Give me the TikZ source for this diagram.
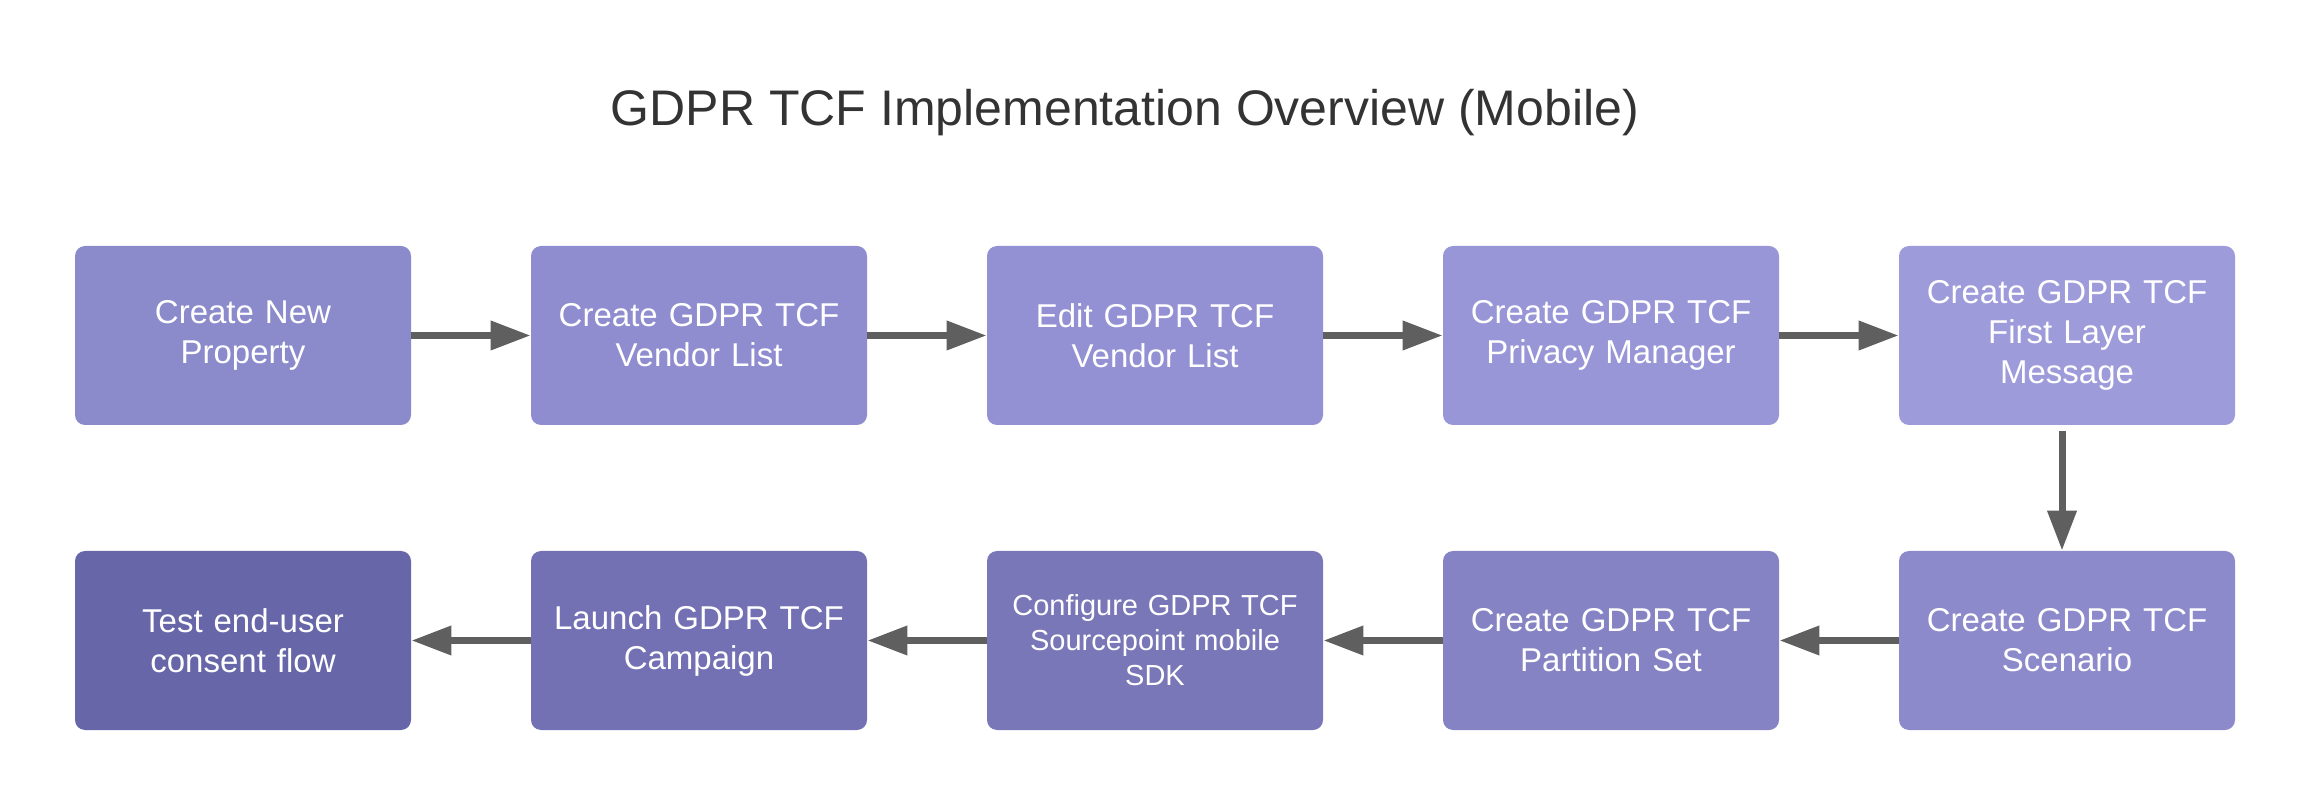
\documentclass[tikz,border=0pt]{standalone}
\usepackage{fontspec}
\setmainfont{Liberation Sans}
\usetikzlibrary{positioning,arrows.meta}

\definecolor{titlegray}{HTML}{333333}
\definecolor{arrowgray}{HTML}{5F5F5F}
\definecolor{propfill}{HTML}{8B8BCB}
\definecolor{vlistfill}{HTML}{8F8DCF}
\definecolor{editfill}{HTML}{9391D3}
\definecolor{pmfill}{HTML}{9896D7}
\definecolor{msgfill}{HTML}{9E9BDB}
\definecolor{scenfill}{HTML}{8D8ACB}
\definecolor{partfill}{HTML}{8583C3}
\definecolor{sdkfill}{HTML}{7977B7}
\definecolor{campfill}{HTML}{7371B3}
\definecolor{testfill}{HTML}{6666A8}

\begin{document}
\begin{tikzpicture}[>={Triangle[length=20pt,width=14pt]},
   node distance=152.5pt and 228pt,on grid,
   stepbox/.style={rounded corners=5pt,minimum width=168pt,minimum height=89.5pt,
     inner sep=0pt,text width=160pt,align=center,text=white,
     font=\fontsize{16.5}{20}\selectfont},
   flow/.style={->,draw=arrowgray,line width=3.5pt}]
 \useasboundingbox (0,0) rectangle (1156pt,-403pt);
 \node[anchor=base,text=titlegray,font=\fontsize{25}{30}\selectfont] (title) at (562.5pt,-63pt)
   {GDPR TCF Implementation Overview (Mobile)};
 % top row, left to right
 \node[stepbox,fill=propfill] (prop) at (121.5pt,-167.75pt) {Create New\\Property};
 \node[stepbox,fill=vlistfill] (vlist) [right=of prop] {Create GDPR TCF\\Vendor List};
 \node[stepbox,fill=editfill] (edit) [right=of vlist] {Edit GDPR TCF\\Vendor List};
 \node[stepbox,fill=pmfill] (pm) [right=of edit] {Create GDPR TCF\\Privacy Manager};
 \node[stepbox,fill=msgfill] (msg) [right=of pm] {Create GDPR TCF\\First Layer\\Message};
 % bottom row, right to left
 \node[stepbox,fill=scenfill] (scen) [below=of msg] {Create GDPR TCF\\Scenario};
 \node[stepbox,fill=partfill] (part) [left=of scen] {Create GDPR TCF\\Partition Set};
 \node[stepbox,fill=sdkfill,font=\fontsize{14.5}{17.5}\selectfont] (sdk) [left=of part]
   {Configure GDPR TCF\\Sourcepoint mobile\\SDK};
 \node[stepbox,fill=campfill] (camp) [left=of sdk] {Launch GDPR TCF\\Campaign};
 \node[stepbox,fill=testfill] (test) [left=of camp] {Test end-user\\consent flow};
 \draw[flow] (prop) -- (vlist);
 \draw[flow] (vlist) -- (edit);
 \draw[flow] (edit) -- (pm);
 \draw[flow] (pm) -- (msg);
 \draw[flow,shorten <=3pt] ([xshift=-2.5pt]msg.south) -- ([xshift=-2.5pt]scen.north);
 \draw[flow] (scen) -- (part);
 \draw[flow] (part) -- (sdk);
 \draw[flow] (sdk) -- (camp);
 \draw[flow] (camp) -- (test);
\end{tikzpicture}
\end{document}
